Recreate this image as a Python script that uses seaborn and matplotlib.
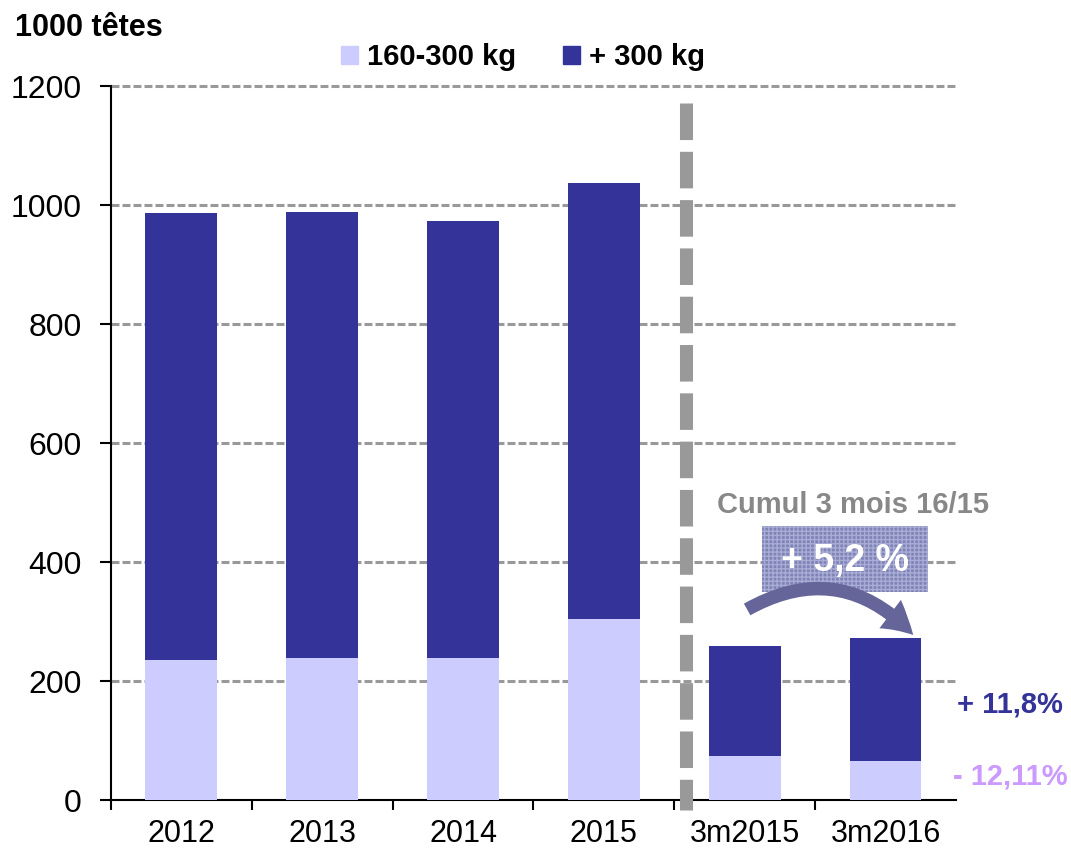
import numpy as np
import pandas as pd
import matplotlib
matplotlib.use("Agg")
import matplotlib.pyplot as plt
from matplotlib.patches import Patch, Rectangle
import seaborn as sns

sns.set_style("white")
plt.rcParams['font.family'] = ['Liberation Sans', 'DejaVu Sans']
plt.rcParams['text.color'] = 'black'
plt.rcParams['xtick.color'] = 'black'
plt.rcParams['ytick.color'] = 'black'
plt.rcParams['xtick.labelcolor'] = 'black'
plt.rcParams['ytick.labelcolor'] = 'black'

# data (1000 têtes)
periods = ['2012', '2013', '2014', '2015', '3m2015', '3m2016']
light_160_300 = [235, 239, 239, 304, 74, 65]
heavy_300 = [752, 749, 734, 733, 185, 207]
total = [a + b for a, b in zip(light_160_300, heavy_300)]
var_heavy = '+ 11,8%'
var_light = '- 12,11%'
var_total = '+ 5,2 %'

df = pd.DataFrame({'periode': periods, 'leger': light_160_300, 'total': total})

c_dark = '#333399'
c_light = '#ccccff'
c_grid = '#999999'

fig = plt.figure(figsize=(10.71, 8.52), dpi=100)
ax = fig.add_axes([0.1036, 0.061, 0.789, 0.838])

sns.barplot(data=df, x='periode', y='total', color=c_dark, width=0.51,
            saturation=1, linewidth=0, ax=ax, zorder=3)
sns.barplot(data=df, x='periode', y='leger', color=c_light, width=0.51,
            saturation=1, linewidth=0, ax=ax, zorder=3)

ax.set_xlim(-0.5, 5.5)
ax.set_ylim(0, 1200)
ax.set_xlabel('')
ax.set_ylabel('')

# gridlines
for v in [200, 400, 600, 800, 1000, 1200]:
    ax.axhline(v, color=c_grid, lw=2.2, dashes=(2.6, 1.0), zorder=1,
               clip_on=False)

ax.set_yticks([0, 200, 400, 600, 800, 1000, 1200])
ax.tick_params(axis='y', direction='out', length=8, width=1.5, pad=13,
               labelsize=23, left=True)
ax.tick_params(axis='x', which='major', length=0, pad=14, labelsize=22)
ax.set_xticks(np.arange(-0.5, 5.0, 1.0), minor=True)
ax.tick_params(axis='x', which='minor', direction='out', length=7, width=1.5,
               bottom=True)

for s in ['top', 'right']:
    ax.spines[s].set_visible(False)
for s in ['left', 'bottom']:
    ax.spines[s].set_color('black')
    ax.spines[s].set_linewidth(1.5)

# separator between years and 3-month cumul
ax.plot([3.58, 3.58], [1171, -17], color=c_grid, lw=9.4, dashes=(2.8, 0.9),
        solid_capstyle='butt', dash_capstyle='butt', clip_on=False, zorder=4)

# annotations
ax.text(4.77, 496, 'Cumul 3 mois 16/15', color='#888888', fontsize=21,
        fontweight='bold', ha='center', va='center', zorder=5)
ax.add_patch(Rectangle((4.12, 350), 1.18, 110, facecolor='#7f83b6',
                       edgecolor='#a9acd4', hatch='++++', lw=0, zorder=5))
ax.text(4.71, 402, var_total, color='white', fontsize=27, fontweight='bold',
        ha='center', va='center', zorder=6)
ax.annotate('', xy=(5.21, 274), xytext=(4.0, 318),
            arrowprops=dict(arrowstyle='simple,tail_width=0.6,head_width=1.6,head_length=1.4',
                            mutation_scale=16, color='#65659a',
                            connectionstyle='arc3,rad=-0.4', lw=0),
            zorder=6)
ax.text(5.885, 160, var_heavy, color=c_dark, fontsize=21, fontweight='bold',
        ha='center', va='center', clip_on=False)
ax.text(5.885, 39, var_light, color='#cc99ff', fontsize=21, fontweight='bold',
        ha='center', va='center', clip_on=False)

fig.text(0.014, 0.967, '1000 têtes', fontsize=22, fontweight='bold',
         ha='left', va='center')

handles = [Patch(color=c_light, label='160-300 kg'),
           Patch(color=c_dark, label='+ 300 kg')]
fig.legend(handles=handles, loc='center', bbox_to_anchor=(0.488, 0.933),
           ncol=2, frameon=False, handlelength=0.6, handleheight=0.6,
           handletextpad=0.3, columnspacing=1.6,
           prop={'size': 21, 'weight': 'bold'})

fig.savefig('out.png', dpi=100)
